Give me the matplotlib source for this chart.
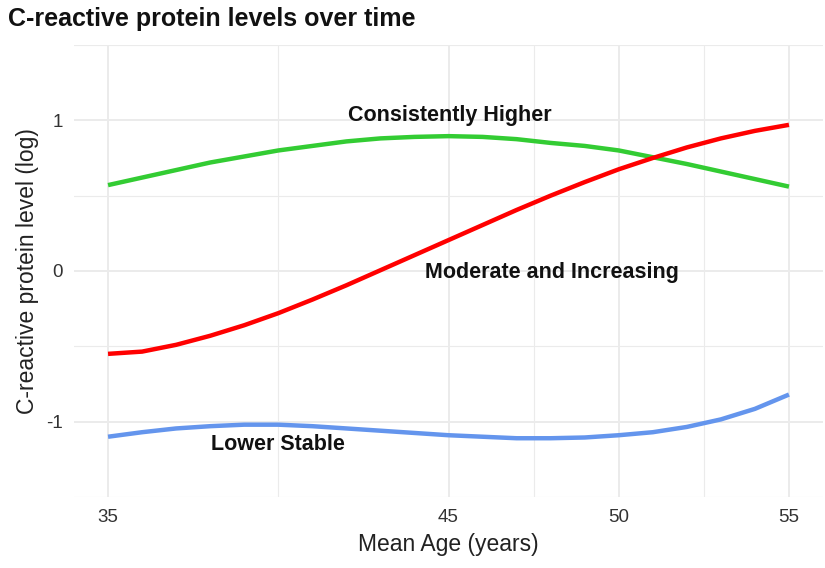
import matplotlib
matplotlib.use("Agg")
import matplotlib.pyplot as plt

plt.rcParams['font.family'] = ['Liberation Sans', 'DejaVu Sans']

age = [35, 36, 37, 38, 39, 40, 41, 42, 43, 44, 45, 46, 47, 48, 49, 50, 51, 52, 53, 54, 55]
higher = [0.57, 0.62, 0.67, 0.72, 0.76, 0.80, 0.83, 0.86, 0.88, 0.89, 0.895, 0.89, 0.875, 0.85, 0.83, 0.80, 0.755, 0.71, 0.66, 0.61, 0.56]
moderate = [-0.55, -0.535, -0.49, -0.43, -0.36, -0.28, -0.19, -0.095, 0.005, 0.105, 0.205, 0.305, 0.405, 0.50, 0.59, 0.675, 0.75, 0.82, 0.88, 0.93, 0.97]
lower = [-1.10, -1.07, -1.045, -1.03, -1.02, -1.02, -1.03, -1.045, -1.06, -1.075, -1.09, -1.10, -1.11, -1.11, -1.105, -1.09, -1.07, -1.035, -0.985, -0.915, -0.82]

series = [
    ("Consistently Higher", higher, "#33CC33", 45.05, 1.03),
    ("Moderate and Increasing", moderate, "#FF0000", 48.05, -0.01),
    ("Lower Stable", lower, "#6495ED", 40.0, -1.15),
]

xticks = [35, 45, 50, 55]
xminor = [40, 47.5, 52.5]
yticks = [-1, 0, 1]
yminor = [-1.5, -0.5, 0.5, 1.5]

fig = plt.figure(figsize=(8.25, 5.68), dpi=100)
ax = fig.add_axes([0.0897, 0.125, 0.9079, 0.7958])
ax.set_xlim(34, 56)
ax.set_ylim(-1.5, 1.5)

for v in xticks:
    ax.axvline(v, color="#EBEBEB", lw=1.4, zorder=0)
for v in xminor:
    ax.axvline(v, color="#EBEBEB", lw=0.8, zorder=0)
for v in yticks:
    ax.axhline(v, color="#EBEBEB", lw=1.4, zorder=0)
for v in yminor:
    ax.axhline(v, color="#EBEBEB", lw=0.8, zorder=0)

for name, vals, col, lx, ly in series:
    ax.plot(age, vals, color=col, lw=3.2, solid_capstyle="butt", zorder=3)
    ax.text(lx, ly, name, ha="center", va="center", fontsize=15.5, fontweight="bold", color="#111111", zorder=4)

for s in ax.spines.values():
    s.set_visible(False)
ax.set_xticks(xticks)
ax.set_yticks(yticks)
ax.set_yticklabels(["-1", "0", "1"])
ax.tick_params(length=0, labelsize=13.5, colors="#333333")
ax.tick_params(axis="x", pad=9)
ax.tick_params(axis="y", pad=8)
ax.set_xlabel("Mean Age (years)", fontsize=16.5, color="#222222", labelpad=5)
ax.set_ylabel("C-reactive protein level (log)", fontsize=16.5, color="#222222", labelpad=5)

fig.text(0.01, 0.966, "C-reactive protein levels over time", fontsize=18, fontweight="bold", ha="left", va="center", color="#111111")

fig.savefig("out.png", dpi=100)
